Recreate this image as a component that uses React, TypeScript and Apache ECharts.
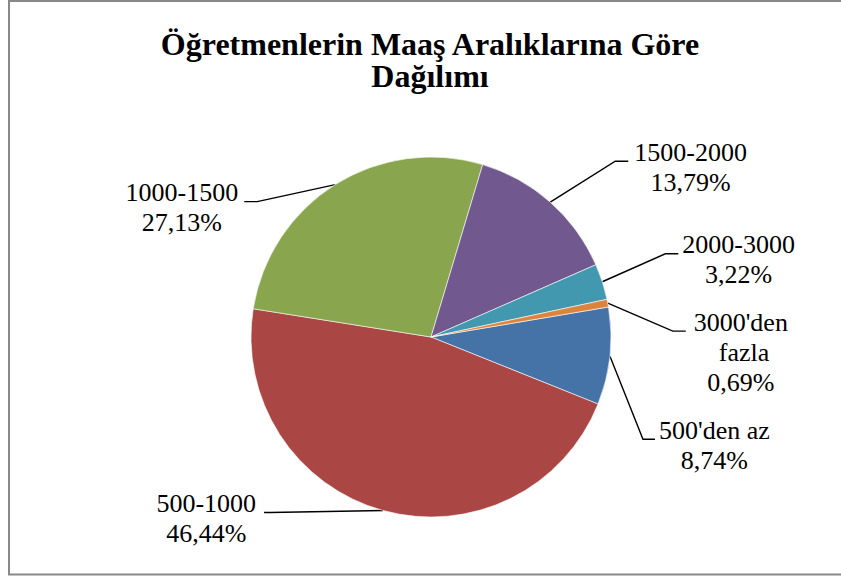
import React, { useEffect, useRef } from 'react';
import * as echarts from 'echarts';

const categories = ["500'den az", '500-1000', '1000-1500', '1500-2000', '2000-3000', "3000'den fazla"];
const percentages = [8.74, 46.44, 27.13, 13.79, 3.22, 0.69];
const sliceColors = ['#4572A7', '#AA4643', '#89A54E', '#71588F', '#4198AF', '#DB843D'];
const titleText = 'Öğretmenlerin Maaş Aralıklarına Göre\nDağılımı';

// leader line layout (pixels): elbow offset from slice edge, horizontal tail, gap to text
const leaderElbow = [[33, 83], [-113, 2], [-78, 17], [65, -41], [63, -28], [65, 28]];
const leaderTail = [12, -6, -13, 13, 13, 13];
const labelGap = [4, 8, 6, 6, 4, 5];
const labelWrapWidth = [0, 0, 0, 0, 0, 100];

const FONT = 'Liberation Serif';

export default function App() {
  const ref = useRef<HTMLDivElement>(null);
  useEffect(() => {
    if (!ref.current) return;
    const chart = echarts.init(ref.current, null, { renderer: 'svg' });
    const data = categories.map((name, i) => {
      const item: any = { name, value: percentages[i], itemStyle: { color: sliceColors[i] } };
      if (labelWrapWidth[i]) {
        item.label = { width: labelWrapWidth[i], overflow: 'break', fontFamily: FONT };
      }
      return item;
    });
    chart.setOption({
      animation: false,
      backgroundColor: '#ffffff',
      textStyle: { fontFamily: FONT },
      graphic: [
        {
          type: 'rect',
          silent: true,
          shape: { x: 9, y: 1, width: 850, height: 573.5 },
          style: { fill: 'none', stroke: '#888888', lineWidth: 2 },
        },
        {
          type: 'text',
          silent: true,
          x: 430,
          y: 28,
          style: {
            text: titleText,
            align: 'center',
            textAlign: 'center',
            verticalAlign: 'top',
            textVerticalAlign: 'top',
            fontFamily: FONT,
            fontWeight: 'bold',
            fontSize: 32,
            lineHeight: 32,
            fill: '#000000',
          },
        },
      ],
      series: [
        {
          type: 'pie',
          silent: true,
          center: [431, 337],
          radius: 180,
          startAngle: 9.6,
          clockwise: true,
          avoidLabelOverlap: false,
          itemStyle: { borderColor: '#ffffff', borderWidth: 0.6 },
          emphasis: { disabled: true },
          label: {
            show: true,
            position: 'outside',
            color: '#000000',
            fontFamily: FONT,
            fontSize: 26,
            lineHeight: 30,
            align: 'center',
            formatter: (p: any) => `${p.name}\n${p.value.toFixed(2).replace('.', ',')}%`,
          },
          labelLine: {
            show: true,
            smooth: false,
            lineStyle: { color: '#000000', width: 1.4 },
          },
          labelLayout: (p: any) => {
            const i = p.dataIndex;
            const start = p.labelLinePoints ? p.labelLinePoints[0] : [0, 0];
            const elbow = [start[0] + leaderElbow[i][0], start[1] + leaderElbow[i][1]];
            const end = [elbow[0] + leaderTail[i], elbow[1]];
            const w = p.labelRect.width;
            const right = leaderTail[i] > 0;
            const x = right ? end[0] + labelGap[i] + w / 2 : end[0] - labelGap[i] - w / 2;
            return {
              x,
              y: end[1] - 24,
              align: 'center',
              verticalAlign: 'top',
              labelLinePoints: [start, elbow, end],
            };
          },
          data,
        },
      ],
    });
    return () => chart.dispose();
  }, []);
  return (
    <div
      ref={ref}
      style={{ position: 'fixed', left: 0, top: 0, width: 841, height: 578 }}
    />
  );
}
